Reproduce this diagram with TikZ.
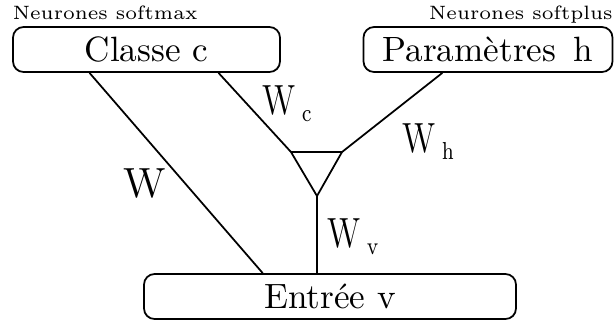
\documentclass[tikz,border=0pt]{standalone}
\usepackage{graphicx}
\usetikzlibrary{calc,positioning}
\tikzset{
	boite/.style={
		rectangle,
		rounded corners=3pt,
		draw=black, line width=0.5pt,
		minimum height=4.5mm,
		inner sep=0pt,
		text centered},
	etiq/.style={font=\fontsize{5.5}{6.5}\selectfont, inner sep=0pt},
	poids/.style={font=\large, inner sep=0pt, anchor=base west},
	lien/.style={draw, line width=0.5pt},
}
\newcommand{\wsub}[1]{\scalebox{0.78}[1]{W\kern2.2pt\raisebox{-2pt}{\scriptsize #1}}}

\begin{document}
\begin{tikzpicture}[x=0.1mm, y=-0.1mm]
\useasboundingbox (0,0) rectangle (614,322);
\node[boite, minimum width=26.7mm] (classe) at (146.5,49.5) {Classe c};
\node[boite, minimum width=24.9mm] (param) at (488,49.5) {Paramètres\enspace h};
\node[boite, minimum width=37.2mm] (entree) at (330,296.5) {Entrée v};
\node[etiq, anchor=base west] (softmax) at ([yshift=2pt]classe.north west) {Neurones softmax};
\node[etiq, anchor=base east] (softplus) at ([yshift=2pt]param.north east) {Neurones softplus};

% le triangle
\coordinate (tg) at (291,152);
\coordinate (td) at (342,152);
\coordinate (tb) at (317,196);
\draw[lien] (tg) -- (td) -- (tb) -- cycle;

\draw[lien] ($(classe.south west)!0.288!(classe.south east)$) -- ($(entree.north west)!0.32!(entree.north east)$);
\draw[lien] ($(classe.south west)!0.768!(classe.south east)$) -- (tg);
\draw[lien] ($(param.south west)!0.318!(param.south east)$) -- (td);
\draw[lien] (tb) -- (tb |- entree.north);

\node[poids, anchor=base] (w) at (145,197) {W};
\node[poids] (wc) at (262,114) {\wsub{c}};
\node[poids] (wh) at (402,152) {\wsub{h}};
\node[poids] (wv) at (327,247) {\wsub{v}};
\end{tikzpicture}
\end{document}
